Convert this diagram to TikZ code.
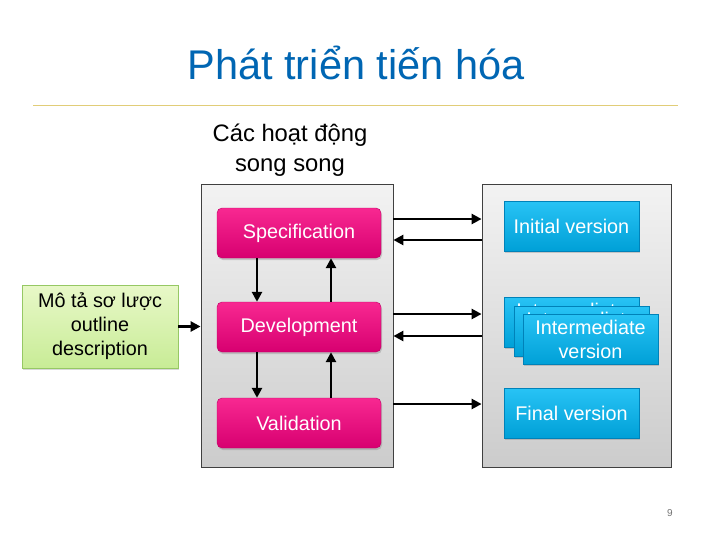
\documentclass[tikz,border=0pt]{standalone}
\usepackage{fontspec}
\setmainfont{Liberation Sans}
\usetikzlibrary{arrows.meta,shadows,calc}
\definecolor{titleblue}{RGB}{0,102,179}
\definecolor{rulecol}{RGB}{225,205,120}
\definecolor{pinktop}{RGB}{248,40,145}
\definecolor{pinkbot}{RGB}{215,0,112}
\definecolor{pinkedge}{RGB}{190,0,100}
\definecolor{bluetop}{RGB}{40,195,245}
\definecolor{bluebot}{RGB}{0,160,215}
\definecolor{blueedge}{RGB}{0,130,185}
\definecolor{greentop}{RGB}{232,248,200}
\definecolor{greenbot}{RGB}{200,236,150}
\definecolor{greenedge}{RGB}{150,200,100}
\tikzset{
  panel/.style={draw=black!75, line width=0.8pt, top color=black!5, bottom color=black!20,
    minimum width=#1, minimum height=283pt, inner sep=0pt},
  pinkbox/.style={draw=pinkedge, line width=0.4pt, rounded corners=5pt, top color=pinktop, bottom color=pinkbot,
    text=white, minimum width=164pt, minimum height=50pt, font=\fontsize{19.8}{22}\selectfont,
    drop shadow={opacity=0.35, shadow xshift=1pt, shadow yshift=-2pt}},
  bluebox/.style={draw=blueedge, line width=0.4pt, top color=bluetop, bottom color=bluebot,
    text=white, minimum width=135pt, minimum height=50pt, align=center, inner sep=1pt,
    font=\fontsize{19.8}{24}\selectfont,
    drop shadow={opacity=0.35, shadow xshift=1pt, shadow yshift=-2pt}},
  greenbox/.style={draw=greenedge, line width=0.6pt, top color=greentop, bottom color=greenbot,
    minimum width=156pt, minimum height=83pt, align=center, inner sep=1pt,
    font=\fontsize{19.8}{24}\selectfont,
    drop shadow={opacity=0.3, shadow xshift=1pt, shadow yshift=-2pt}},
  arr/.style={-{Triangle[length=10pt,width=10pt]}, line width=2.8pt, black},
}
\begin{document}
\begin{tikzpicture}[x=1pt,y=-1pt]
\path[use as bounding box, fill=white] (0,0) rectangle (717,538);
% title
\node[text=titleblue, font=\fontsize{41.5}{44}\selectfont] (title) at (356,63) {Phát triển tiến hóa};
\draw[rulecol, line width=0.8pt] (33,105) coordinate (rl) -- (678,105) coordinate (rr);
\node[align=center, font=\fontsize{23.8}{30}\selectfont] (par) at (290,150) {Các hoạt động\\song song};
% panels
\node[panel=192pt] (mid) at (297,325.5) {};
\node[panel=189pt] (right) at (576.5,325.5) {};
% pink boxes
\node[pinkbox] (spec) at (299,233) {Specification};
\node[pinkbox] (dev) at (299,327) {Development};
\node[pinkbox] (val) at (299,423) {Validation};
% blue boxes
\node[bluebox] (init) at (571.5,226) {Initial version};
\node[bluebox] (int1) at (571.5,322) {Intermediate\\version};
\node[bluebox] (int2) at (581.5,331) {Intermediate\\version};
\node[bluebox] (int3) at (590.5,339) {Intermediate\\version};
\node[bluebox] (fin) at (571.5,413) {Final version};
% green box
\node[greenbox] (outl) at (100,326.5) {Mô tả sơ lược\\outline\\description};
% page number
\node[text=black!55, font=\fontsize{10}{12}\selectfont] (pg) at (670,513) {9};
% arrows
\draw[arr] (outl.east) -- (outl.east -| mid.west);
\draw[arr] ([yshift=14pt]spec.east -| mid.east) -- ([yshift=14pt]spec.east -| right.west);
\draw[arr] ([yshift=-7pt]spec.east -| right.west) -- ([yshift=-7pt]spec.east -| mid.east);
\draw[arr] ([yshift=13pt]dev.east -| mid.east) -- ([yshift=13pt]dev.east -| right.west);
\draw[arr] ([yshift=-9pt]dev.east -| right.west) -- ([yshift=-9pt]dev.east -| mid.east);
\draw[arr] ([yshift=19pt]val.east -| mid.east) -- ([yshift=19pt]val.east -| right.west);
\draw[arr] ([xshift=-42pt]spec.south) -- ([xshift=-42pt]dev.north);
\draw[arr] ([xshift=32pt]dev.north) -- ([xshift=32pt]spec.south);
\draw[arr] ([xshift=-42pt]dev.south) -- ([xshift=-42pt]val.north);
\draw[arr] ([xshift=32pt]val.north) -- ([xshift=32pt]dev.south);
\end{tikzpicture}
\end{document}
